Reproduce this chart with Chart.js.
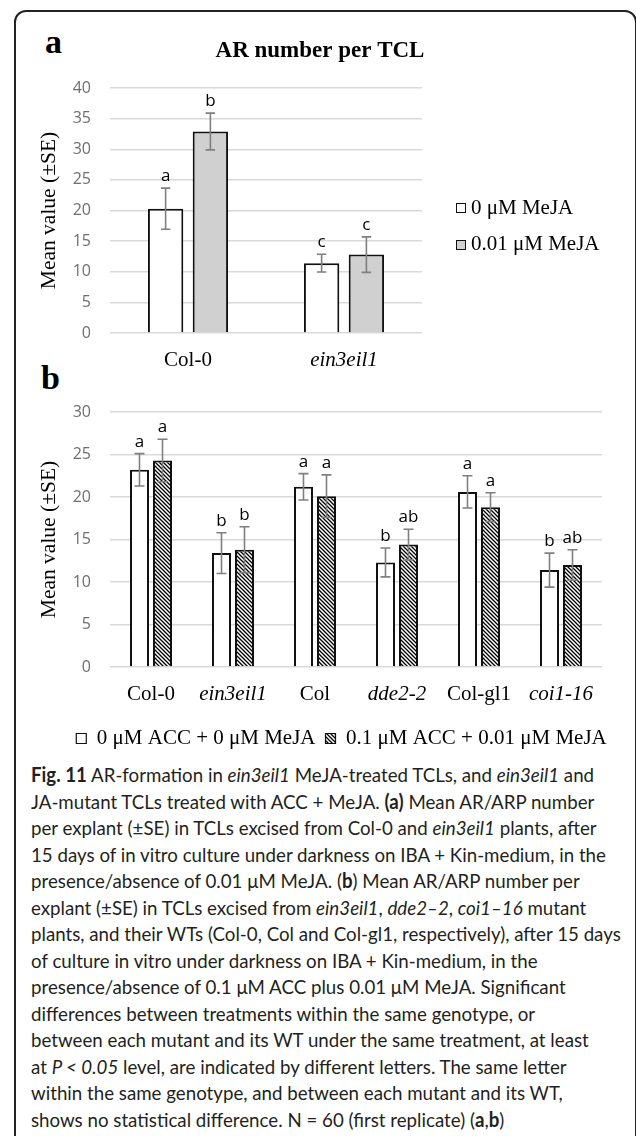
<!DOCTYPE html>
<html>
<head>
<meta charset="utf-8">
<script src="https://cdn.jsdelivr.net/npm/chart.js@4.4.1/dist/chart.umd.min.js"></script>
<style>
html, body { margin: 0; padding: 0; background: #fff; overflow: hidden; }
body { width: 636px; height: 1136px; position: relative; }
#frame { position: absolute; left: 14px; top: 10px; width: 619px; height: 1200px;
  border: 2px solid #222; border-radius: 12px; box-sizing: content-box; }
.tag { position: absolute; font-family: "Liberation Serif", serif; font-weight: bold;
  font-size: 34px; line-height: 34px; color: #000; }
#chartA { position: absolute; left: 0; top: 0; }
#chartB { position: absolute; left: 0; top: 375px; }
#legendA { position: absolute; left: 456px; top: 189px; font-family: "Liberation Serif", serif;
  font-size: 21px; color: #000; white-space: nowrap; }
#legendA .row { height: 36.5px; display: flex; align-items: center; }
#legendA .swatch { display: inline-block; width: 8px; height: 8px; border: 1.2px solid #111;
  margin-right: 5px; position: relative; top: 1px; }
#caption { position: absolute; left: 31px; top: 761px; font-family: Lato, "Open Sans", sans-serif;
  font-size: 20px; line-height: 26.5px; color: #231f20; white-space: nowrap; transform-origin: 0 0; }
#caption i { font-style: italic; }
</style>
</head>
<body>
<div id="frame"></div>
<div class="tag" style="left:45px;top:25px">a</div>
<div class="tag" style="left:41px;top:361px">b</div>
<canvas id="chartA" width="636" height="375"></canvas>
<div id="legendA"></div>
<canvas id="chartB" width="653" height="384"></canvas>
<div id="caption">
<div><b>Fig. 11</b> AR-formation in <i>ein3eil1</i> MeJA-treated TCLs, and <i>ein3eil1</i> and</div>
<div>JA-mutant TCLs treated with ACC + MeJA. <b>(a)</b> Mean AR/ARP number</div>
<div>per explant (±SE) in TCLs excised from Col-0 and <i>ein3eil1</i> plants, after</div>
<div>15 days of in vitro culture under darkness on IBA + Kin-medium, in the</div>
<div>presence/absence of 0.01 μM MeJA. (<b>b</b>) Mean AR/ARP number per</div>
<div>explant (±SE) in TCLs excised from <i>ein3eil1</i>, <i>dde2–2</i>, <i>coi1–16</i> mutant</div>
<div id="longest">plants, and their WTs (Col-0, Col and Col-gl1, respectively), after 15 days</div>
<div>of culture in vitro under darkness on IBA + Kin-medium, in the</div>
<div>presence/absence of 0.1 μM ACC plus 0.01 μM MeJA. Significant</div>
<div>differences between treatments within the same genotype, or</div>
<div>between each mutant and its WT under the same treatment, at least</div>
<div>at <i>P &lt; 0.05</i> level, are indicated by different letters. The same letter</div>
<div>within the same genotype, and between each mutant and its WT,</div>
<div>shows no statistical difference. N = 60 (first replicate) (<b>a</b>,<b>b</b>)</div>
</div>
<script>
// panel a : AR number per TCL
const genotypesA = ['Col-0', 'ein3eil1'];
const italicA = [false, true];
const meja0 = [20.3, 11.4];
const meja0SE = [3.35, 1.45];
const meja0Letters = ['a', 'c'];
const meja001 = [32.9, 12.8];
const meja001SE = [3.0, 2.9];
const meja001Letters = ['b', 'c'];

// panel b : ACC + MeJA
const genotypesB = ['Col-0', 'ein3eil1', 'Col', 'dde2-2', 'Col-gl1', 'coi1-16'];
const italicB = [false, true, false, true, false, true];
const ctrl = [23.2, 13.4, 21.2, 12.3, 20.6, 11.4];
const ctrlSE = [1.9, 2.4, 1.55, 1.7, 1.9, 2.0];
const ctrlLetters = ['a', 'b', 'a', 'b', 'a', 'b'];
const accMeja = [24.3, 13.8, 20.1, 14.4, 18.8, 12.0];
const accMejaSE = [2.5, 2.7, 2.5, 1.8, 1.7, 1.8];
const accMejaLetters = ['a', 'b', 'a', 'ab', 'a', 'ab'];

const SERIF = '"Liberation Serif", "Times New Roman", serif';
const SANS = '"Open Sans", sans-serif';
Chart.defaults.font.family = SERIF;
Chart.defaults.color = '#000';

function hatch() {
  const s = 4;
  const c = document.createElement('canvas');
  c.width = s; c.height = s;
  const g = c.getContext('2d');
  g.fillStyle = '#fff';
  g.fillRect(0, 0, s, s);
  g.strokeStyle = '#000';
  g.lineWidth = 1.3;
  g.beginPath();
  g.moveTo(-1, -1); g.lineTo(s + 1, s + 1);
  g.moveTo(-1, s - 1); g.lineTo(1, s + 1);
  g.moveTo(s - 1, -1); g.lineTo(s + 1, 1);
  g.stroke();
  return g.createPattern(c, 'repeat');
}

// error bars + significance letters
const errorBars = {
  id: 'errorBars',
  afterDatasetsDraw(chart, args, opts) {
    const ctx = chart.ctx;
    const y = chart.scales.y;
    chart.data.datasets.forEach((ds, di) => {
      chart.getDatasetMeta(di).data.forEach((bar, i) => {
        const top = y.getPixelForValue(ds.data[i] + ds.se[i]);
        const bot = y.getPixelForValue(ds.data[i] - ds.se[i]);
        ctx.save();
        ctx.strokeStyle = '#7f7f7f';
        ctx.lineWidth = 1.6;
        ctx.beginPath();
        ctx.moveTo(bar.x, top); ctx.lineTo(bar.x, bot);
        ctx.moveTo(bar.x - opts.cap, top); ctx.lineTo(bar.x + opts.cap, top);
        ctx.moveTo(bar.x - opts.cap, bot); ctx.lineTo(bar.x + opts.cap, bot);
        ctx.stroke();
        ctx.fillStyle = '#000';
        ctx.font = '17px ' + SANS;
        ctx.textAlign = 'center';
        ctx.textBaseline = 'alphabetic';
        ctx.fillText(ds.letters[i], bar.x, top - 7);
        ctx.restore();
      });
    });
  }
};

// panel a legend sits to the right of the plot, as html
const htmlLegend = {
  id: 'htmlLegend',
  afterUpdate(chart, args, opts) {
    const box = document.getElementById(opts.containerID);
    box.innerHTML = '';
    chart.data.datasets.forEach(ds => {
      const row = document.createElement('div');
      row.className = 'row';
      const sw = document.createElement('span');
      sw.className = 'swatch';
      sw.style.background = ds.backgroundColor;
      const tx = document.createElement('span');
      tx.textContent = ds.label;
      row.append(sw, tx);
      box.append(row);
    });
  }
};

const thinBoxes = (chart) =>
  Chart.defaults.plugins.legend.labels.generateLabels(chart).map(l => Object.assign(l, { lineWidth: 1.2 }));

const yTitle = { display: true, text: 'Mean value (±SE)', font: { family: SERIF, size: 21.5 }, color: '#000', padding: { top: 6, bottom: 0 } };
const tickFont = { family: SANS, size: 16 };

new Chart(document.getElementById('chartA'), {
  type: 'bar',
  data: {
    labels: genotypesA,
    datasets: [
      { label: '0 μM MeJA', data: meja0, se: meja0SE, letters: meja0Letters,
        backgroundColor: '#ffffff', borderColor: '#111', borderWidth: 2 },
      { label: '0.01 μM MeJA', data: meja001, se: meja001SE, letters: meja001Letters,
        backgroundColor: '#d0d0d0', borderColor: '#111', borderWidth: 2 }
    ]
  },
  options: {
    responsive: false,
    animation: false,
    layout: { padding: { left: 30, right: 26, top: 0, bottom: 0 } },
    datasets: { bar: { categoryPercentage: 0.574, barPercentage: 0.79 } },
    scales: {
      x: {
        grid: { display: false }, border: { display: false },
        ticks: { padding: 7, color: '#000',
          font: (c) => ({ family: SERIF, size: 21, style: italicA[c.index] ? 'italic' : 'normal' }) },
        afterFit: (s) => { s.height = 42; }
      },
      y: {
        min: 0, max: 40,
        ticks: { stepSize: 5, padding: 19, color: '#6f6f6f', font: tickFont },
        grid: { color: '#d9d9d9', lineWidth: 1.5, drawTicks: false },
        border: { display: false },
        title: yTitle,
        afterFit: (s) => { s.width = 80; }
      },
      // empty column that holds the legend
      gap: {
        type: 'linear', position: 'right', display: true,
        grid: { display: false, drawTicks: false }, border: { display: false }, ticks: { display: false },
        afterFit: (s) => { s.width = 636 - 26 - 422; }
      }
    },
    plugins: {
      title: { display: true, text: 'AR number per TCL', color: '#000',
        font: { family: SERIF, size: 23, weight: 'bold' }, padding: { top: 37, bottom: 23.4 } },
      legend: { display: false },
      htmlLegend: { containerID: 'legendA' },
      tooltip: { enabled: false },
      errorBars: { cap: 4.7 }
    }
  },
  plugins: [errorBars, htmlLegend]
});

new Chart(document.getElementById('chartB'), {
  type: 'bar',
  data: {
    labels: genotypesB,
    datasets: [
      { label: '0 μM ACC + 0 μM MeJA', data: ctrl, se: ctrlSE, letters: ctrlLetters,
        backgroundColor: '#ffffff', borderColor: '#111', borderWidth: 2 },
      { label: '0.1 μM ACC + 0.01 μM MeJA', data: accMeja, se: accMejaSE, letters: accMejaLetters,
        backgroundColor: hatch(), borderColor: '#111', borderWidth: 2 }
    ]
  },
  options: {
    responsive: false,
    animation: false,
    layout: { padding: { left: 30, right: 0, top: 37, bottom: 0 } },
    datasets: { bar: { categoryPercentage: 0.561, barPercentage: 0.826 } },
    scales: {
      x: {
        grid: { display: false }, border: { display: false },
        ticks: { padding: 7, color: '#000',
          font: (c) => ({ family: SERIF, size: 21, style: italicB[c.index] ? 'italic' : 'normal' }) },
        afterFit: (s) => { s.height = 51; }
      },
      y: {
        min: 0, max: 30,
        ticks: { stepSize: 5, padding: 19, color: '#6f6f6f', font: tickFont },
        grid: { color: '#d9d9d9', lineWidth: 1.5, drawTicks: false },
        border: { display: false },
        title: yTitle,
        afterFit: (s) => { s.width = 80; }
      },
      gap: {
        type: 'linear', position: 'right', display: true,
        grid: { display: false, drawTicks: false }, border: { display: false }, ticks: { display: false },
        afterFit: (s) => { s.width = 51; }
      }
    },
    plugins: {
      legend: {
        position: 'bottom', align: 'center',
        labels: { boxWidth: 10, boxHeight: 10, padding: 10, color: '#000',
          font: { family: SERIF, size: 21 }, generateLabels: thinBoxes }
      },
      tooltip: { enabled: false },
      errorBars: { cap: 5 }
    }
  },
  plugins: [errorBars]
});

// squeeze the caption to the column width of the original
function fitCaption() {
  const cap = document.getElementById('caption');
  const w = document.getElementById('longest').scrollWidth;
  cap.style.transform = 'scaleX(' + (590 / w) + ')';
}
fitCaption();
if (document.fonts && document.fonts.ready) document.fonts.ready.then(fitCaption);
</script>
</body>
</html>
